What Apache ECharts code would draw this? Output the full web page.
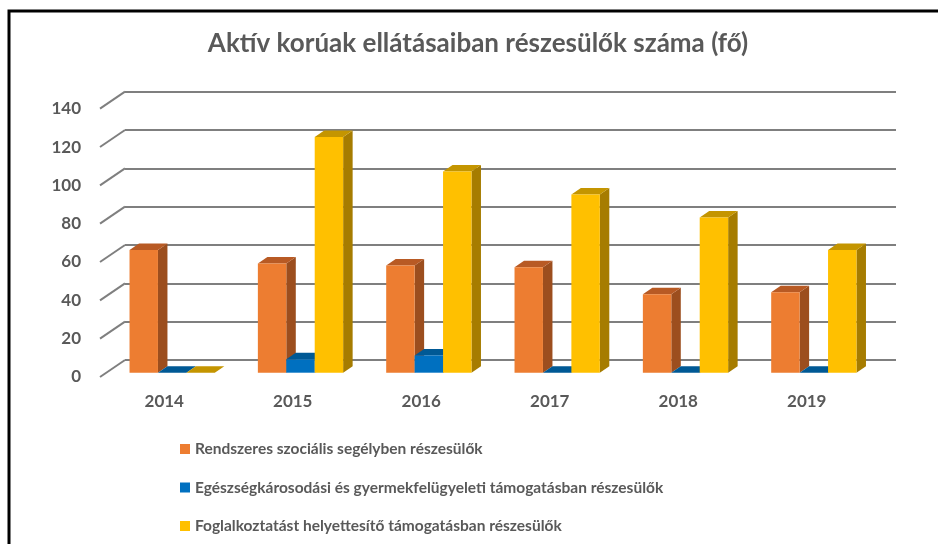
<!DOCTYPE html>
<html>
<head>
<meta charset="utf-8">
<script src="https://cdn.jsdelivr.net/npm/echarts@6/dist/echarts.min.js"></script>
<style>
  html, body { margin: 0; padding: 0; background: #fff; }
  #chart { width: 938px; height: 544px; }
</style>
</head>
<body>
<div id="chart"></div>
<script>
// adatok
var years = ['2014', '2015', '2016', '2017', '2018', '2019'];
var rendszeres = [64, 57, 56, 55, 41, 42];
var egeszseg = [0, 7, 9, 0, 0, 0];
var foglalkoztatast = [0, 123, 105, 93, 81, 64];
var yTicks = [0, 20, 40, 60, 80, 100, 120, 140];

var seriesNames = [
  'Rendszeres szociális segélyben részesülők',
  'Egészségkárosodási és gyermekfelügyeleti támogatásban részesülők',
  'Foglalkoztatást helyettesítő támogatásban részesülők'
];
// front / side / top
var palette = [
  ['#ED7D31', '#9C4E1E', '#B85A24'],
  ['#0070C0', '#004C82', '#005995'],
  ['#FFC000', '#A67C00', '#C49500']
];

var DX = 9.5, DY = 6.5;       // oszlop mélység
var WALL_DX = 25, WALL_DY = 17; // fal mélység
var FONT = 'Lato';
var GRAY = '#595959';

function toPairs(arr) {
  return arr.map(function (v, i) { return [i, v]; });
}

function bar3d(idx) {
  var c = palette[idx];
  return function (params, api) {
    var cat = api.value(0), v = api.value(1);
    var base = api.coord([cat, 0]);
    var top = api.coord([cat, v]);
    var w = api.size([1, 0])[0] * 0.2215;
    var x0 = base[0] + (idx - 1.5) * w;
    var x1 = x0 + w;
    var yb = base[1], yt = top[1];
    return {
      type: 'group',
      children: [
        { type: 'polygon', shape: { points: [[x1, yt], [x1 + DX, yt - DY], [x1 + DX, yb - DY], [x1, yb]] }, style: { fill: c[1] } },
        { type: 'polygon', shape: { points: [[x0, yt], [x0 + DX, yt - DY], [x1 + DX, yt - DY], [x1, yt]] }, style: { fill: c[2] } },
        { type: 'rect', shape: { x: x0, y: yt, width: w, height: yb - yt }, style: { fill: c[0] } }
      ]
    };
  };
}

var myChart = echarts.init(document.getElementById('chart'));

var dataSets = [rendszeres, egeszseg, foglalkoztatast];
var barSeries = dataSets.map(function (d, i) {
  return {
    name: seriesNames[i],
    type: 'custom',
    xAxisIndex: 2,
    yAxisIndex: 2,
    itemStyle: { color: palette[i][0] },
    renderItem: bar3d(i),
    encode: { x: 0, y: 1 },
    data: toPairs(d),
    z: 3
  };
});

var option = {
  backgroundColor: '#fff',
  animation: false,
  title: {
    text: 'Aktív korúak ellátásaiban részesülők száma (fő)',
    left: 478,
    textAlign: 'center',
    top: 31,
    padding: 0,
    textStyle: { fontFamily: FONT, fontSize: 26, fontWeight: 'bold', color: GRAY }
  },
  legend: {
    orient: 'vertical',
    left: 180,
    top: 441,
    padding: 0,
    itemWidth: 10,
    itemHeight: 10,
    itemGap: 22.5,
    icon: 'rect',
    data: seriesNames,
    textStyle: { fontFamily: FONT, fontSize: 15.5, fontWeight: 'bold', color: GRAY }
  },
  grid: [
    // hátsó fal
    { left: 125, right: 42, top: 91.7, height: 268.3 },
    // elülső sík (feliratok)
    { left: 100, right: 67, top: 108.7, height: 268.3 },
    // oszlopok síkja
    { left: 108, right: 60, top: 104.4, height: 268.3 }
  ],
  xAxis: [
    { gridIndex: 0, type: 'value', min: 0, max: 1, show: false },
    {
      gridIndex: 1, type: 'category', data: years,
      axisLine: { show: false }, axisTick: { show: false },
      axisLabel: { margin: 16, fontFamily: FONT, fontSize: 17, fontWeight: 'bold', color: GRAY }
    },
    { gridIndex: 2, type: 'category', data: years, show: false }
  ],
  yAxis: [
    {
      gridIndex: 0, type: 'value', min: 0, max: 140, interval: 20,
      axisLine: { show: false }, axisTick: { show: false }, axisLabel: { show: false },
      splitLine: { show: true, lineStyle: { color: '#7F7F7F', width: 2 } }
    },
    {
      gridIndex: 1, type: 'value', min: 0, max: 140, interval: 20,
      axisLine: { show: false }, axisTick: { show: false }, splitLine: { show: false },
      axisLabel: { margin: 19, fontFamily: FONT, fontSize: 17, fontWeight: 'bold', color: GRAY }
    },
    { gridIndex: 2, type: 'value', min: 0, max: 140, interval: 20, show: false }
  ],
  graphic: [{
    type: 'rect',
    shape: { x: 9, y: 11, width: 1200, height: 1000 },
    style: { fill: 'none', stroke: '#000', lineWidth: 3 },
    silent: true
  }],
  series: [{
    name: 'diag',
    type: 'custom',
    xAxisIndex: 0,
    yAxisIndex: 0,
    silent: true,
    renderItem: function (params, api) {
      var p = api.coord([0, api.value(0)]);
      return {
        type: 'line',
        shape: { x1: p[0], y1: p[1], x2: p[0] - WALL_DX, y2: p[1] + WALL_DY },
        style: { stroke: '#7F7F7F', lineWidth: 2 }
      };
    },
    data: yTicks,
    z: 1
  }].concat(barSeries)
};

myChart.setOption(option);
</script>
</body>
</html>
